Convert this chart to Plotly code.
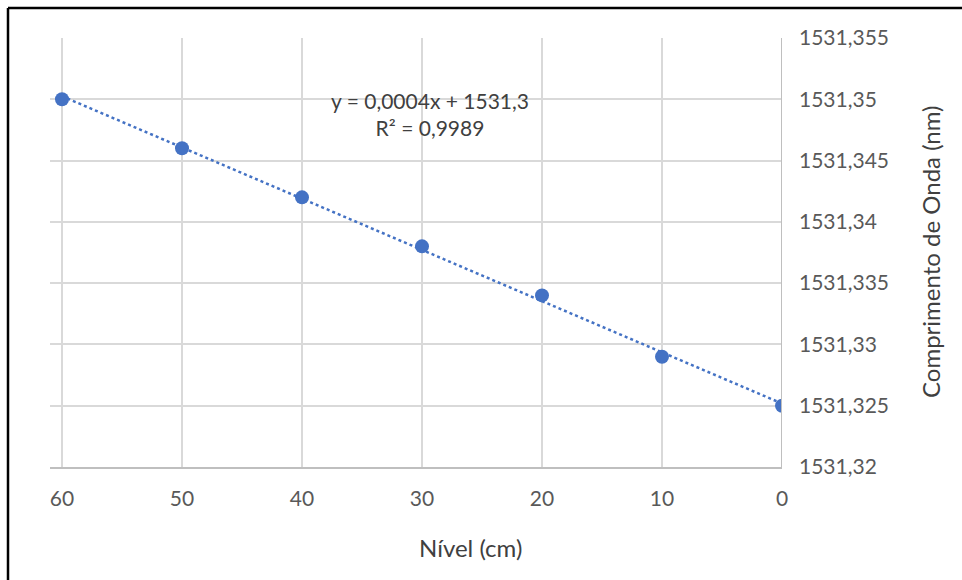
import numpy as np
import plotly.graph_objects as go

# Data
nivel_cm = [60, 50, 40, 30, 20, 10, 0]
comprimento_nm = [1531.350, 1531.346, 1531.342, 1531.338, 1531.334, 1531.329, 1531.325]

y_tickvals = [1531.32, 1531.325, 1531.33, 1531.335, 1531.34, 1531.345, 1531.35, 1531.355]
y_ticktext = ["1531,32", "1531,325", "1531,33", "1531,335", "1531,34", "1531,345", "1531,35", "1531,355"]
x_tickvals = [60, 50, 40, 30, 20, 10, 0]
x_ticktext = ["60", "50", "40", "30", "20", "10", "0"]

eq_text = "y = 0,0004x + 1531,3<br>R² = 0,9989"
x_title = "Nível (cm)"
y_title = "Comprimento de Onda (nm)"

# Linear trendline fitted to data
coef = np.polyfit(nivel_cm, comprimento_nm, 1)
trend_x = [min(nivel_cm), max(nivel_cm)]
trend_y = list(np.polyval(coef, trend_x))

BLUE = "#4472C4"
FONT = "Lato"

fig = go.Figure()
fig.add_trace(go.Scatter(x=trend_x, y=trend_y, mode="lines",
                         line=dict(color=BLUE, width=2.5, dash="dot"),
                         hoverinfo="skip", showlegend=False))
fig.add_trace(go.Scatter(x=nivel_cm, y=comprimento_nm, mode="markers",
                         marker=dict(color=BLUE, size=14),
                         showlegend=False))

L, R, T, B = 50, 180, 38, 113
W, H = 962, 580
pw, ph = W - L - R, H - T - B

def px(xp):
    return (xp - L) / pw

def py(yp):
    return 1 - (yp - T) / ph

fig.update_layout(
    width=W, height=H,
    margin=dict(l=L, r=R, t=T, b=B),
    paper_bgcolor="white", plot_bgcolor="white",
    font=dict(family=FONT, size=21, color="#595959"),
    xaxis=dict(range=[61, 0], tickvals=x_tickvals, ticktext=x_ticktext,
               showgrid=True, gridcolor="#D9D9D9", gridwidth=1.5,
               showline=True, linecolor="#BFBFBF", linewidth=2,
               zeroline=False, ticks="", ticklabelstandoff=12),
    yaxis=dict(range=[1531.32, 1531.355], side="right",
               tickvals=y_tickvals, ticktext=y_ticktext,
               showgrid=True, gridcolor="#D9D9D9", gridwidth=1.5,
               showline=False, zeroline=False, ticks="", ticklabelstandoff=16),
    annotations=[
        dict(text=eq_text, x=px(430), xref="paper", y=py(114), yref="paper",
             xanchor="center", yanchor="middle",
             showarrow=False, align="center",
             font=dict(size=21, color="#404040", family=FONT)),
        dict(text=x_title, x=px(470), xref="paper", y=py(547), yref="paper",
             xanchor="center", yanchor="middle",
             showarrow=False, font=dict(size=24, color="#404040", family=FONT)),
        dict(text=y_title, x=px(930), xref="paper", y=py(252), yref="paper",
             xanchor="center", yanchor="middle",
             showarrow=False, textangle=-90,
             font=dict(size=24, color="#404040", family=FONT)),
    ],
    shapes=[
        dict(type="line", xref="paper", yref="paper",
             x0=px(8), x1=px(W + 10), y0=py(8), y1=py(8),
             line=dict(color="black", width=2.5)),
        dict(type="line", xref="paper", yref="paper",
             x0=px(8), x1=px(8), y0=py(8), y1=py(H + 10),
             line=dict(color="black", width=2.5)),
    ],
)
fig.add_shape(type="line", xref="x", yref="paper", x0=0, x1=0, y0=0, y1=1,
              line=dict(color="#BFBFBF", width=2))

fig.write_html("out.html")
